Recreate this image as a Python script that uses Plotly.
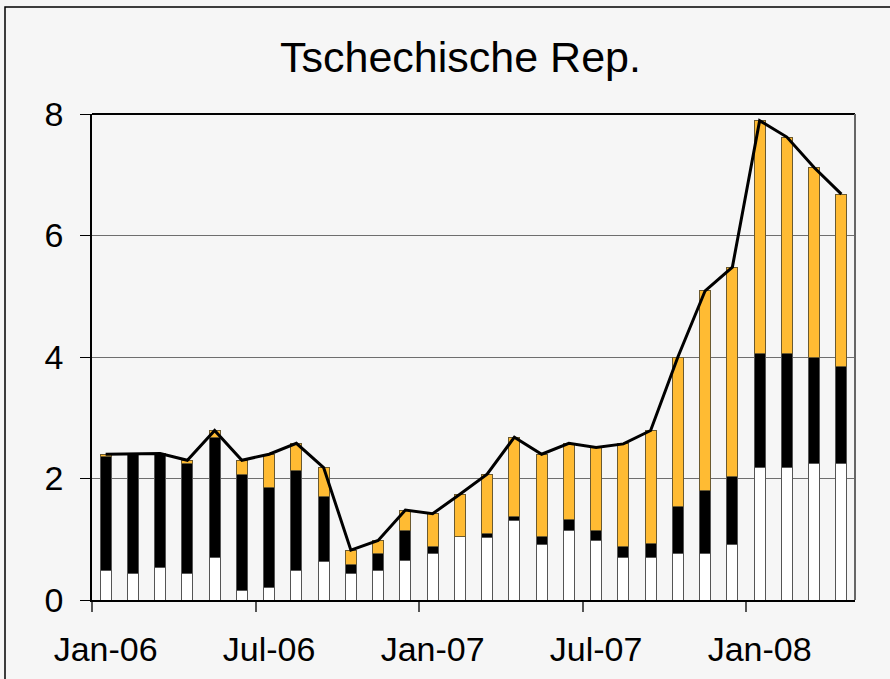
import plotly.graph_objects as go

months = ["Jan-06","Feb-06","Mar-06","Apr-06","May-06","Jun-06","Jul-06","Aug-06","Sep-06","Oct-06","Nov-06","Dec-06",
          "Jan-07","Feb-07","Mar-07","Apr-07","May-07","Jun-07","Jul-07","Aug-07","Sep-07","Oct-07","Nov-07","Dec-07",
          "Jan-08","Feb-08","Mar-08","Apr-08"]
white = [0.48,0.43,0.54,0.43,0.70,0.15,0.21,0.48,0.64,0.43,0.48,0.65,0.76,1.04,1.03,1.31,0.92,1.14,0.98,0.70,0.70,0.76,0.76,0.92,2.18,2.18,2.24,2.24]
black = [1.88,1.98,1.87,1.82,1.98,1.92,1.64,1.66,1.06,0.16,0.29,0.50,0.12,0.00,0.07,0.06,0.12,0.18,0.17,0.18,0.23,0.78,1.05,1.11,1.87,1.87,1.76,1.60]
orange = [0.04,0.00,0.00,0.05,0.11,0.23,0.55,0.44,0.48,0.23,0.21,0.33,0.54,0.70,0.97,1.31,1.36,1.26,1.36,1.69,1.86,2.46,3.28,3.45,3.84,3.57,3.12,2.84]
total = [2.40,2.41,2.41,2.30,2.79,2.30,2.40,2.58,2.18,0.82,0.98,1.48,1.42,1.74,2.07,2.68,2.40,2.58,2.51,2.57,2.79,4.00,5.09,5.48,7.89,7.62,7.12,6.68]
tick_labels = ["Jan-06","Jul-06","Jan-07","Jul-07","Jan-08"]
title_text = "Tschechische Rep."

idx = list(range(len(months)))
label_pos = [months.index(m) for m in tick_labels]
boundary_pos = [p - 0.5 for p in label_pos]

FONT = "Liberation Sans, Arial, sans-serif"
BG = "#F6F6F6"
OUT = "#555555"

fig = go.Figure()
fig.add_trace(go.Bar(x=idx, y=white, marker=dict(color="#FFFFFF", line=dict(color=OUT, width=1)), width=0.4))
fig.add_trace(go.Bar(x=idx, y=black, marker=dict(color="#000000", line=dict(color=OUT, width=1)), width=0.4))
fig.add_trace(go.Bar(x=idx, y=orange, marker=dict(color="#FFBB33", line=dict(color="#6b5a30", width=1)), width=0.4))
fig.add_trace(go.Scatter(x=idx, y=total, mode="lines", line=dict(color="#000000", width=3)))

W, H = 890, 679
L, R, T, B = 92, 35, 114, 79
pw, ph = W - L - R, H - T - B
def px(x): return (x - L) / pw
def py(y): return (H - B - y) / ph

fig.update_layout(
    width=W, height=H, barmode="stack", showlegend=False,
    paper_bgcolor=BG, plot_bgcolor=BG,
    margin=dict(l=L, r=R, t=T, b=B, pad=0),
    font=dict(family=FONT, color="#000000"),
    xaxis=dict(range=[-0.5, len(months) - 0.5], tickmode="array", tickvals=label_pos, ticktext=tick_labels,
               ticks="", showgrid=False, zeroline=False, showline=True, linecolor="#000000", linewidth=1.5,
               tickfont=dict(size=34, family=FONT), ticklabelstandoff=18,
               minor=dict(tickmode="array", tickvals=boundary_pos, ticks="outside", ticklen=10,
                          tickcolor="#555555", tickwidth=1.5, showgrid=False)),
    yaxis=dict(range=[0, 8], dtick=2, ticks="outside", ticklen=10, tickcolor="#000000", tickwidth=1,
               showgrid=True, gridcolor="#6e6e6e", gridwidth=1.3, zeroline=False,
               showline=True, linecolor="#000000", linewidth=1.5,
               tickfont=dict(size=34, family=FONT), ticklabelstandoff=10),
    shapes=[
        dict(type="line", xref="paper", yref="paper", x0=0, x1=1, y0=1, y1=1, line=dict(color="#000000", width=2)),
        dict(type="line", xref="paper", yref="paper", x0=1, x1=1, y0=0, y1=1, line=dict(color="#666666", width=2)),
        dict(type="rect", xref="paper", yref="paper", x0=px(5), x1=px(900), y0=py(7), y1=py(690),
             line=dict(color="#000000", width=1.5), layer="below"),
    ],
    annotations=[dict(text=title_text, xref="paper", yref="paper", x=px(460), y=py(57),
                      xanchor="center", yanchor="middle", showarrow=False,
                      font=dict(size=43, family=FONT, color="#000000"))],
)

fig.write_html("out.html", config={"displayModeBar": False},
               post_script="document.body.style.margin='0';document.body.style.padding='0';"
                           "document.body.style.background='#F6F6F6';document.body.style.overflow='hidden';")
